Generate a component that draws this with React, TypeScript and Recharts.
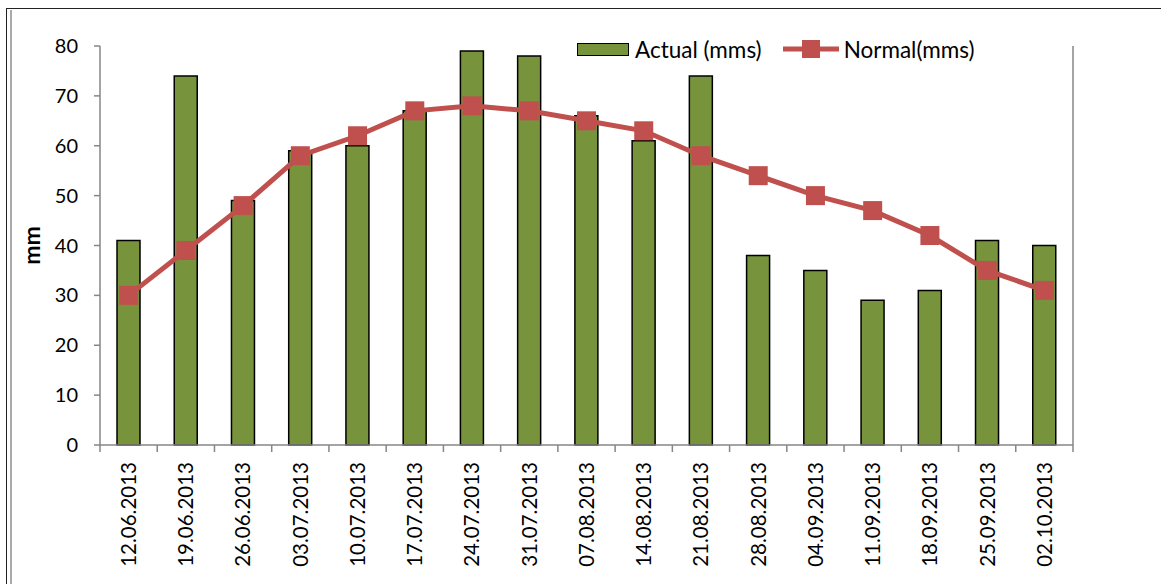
import React from 'react';
import { ComposedChart, Bar, Line, XAxis, YAxis, Label } from 'recharts';

const dates = [
  '12.06.2013', '19.06.2013', '26.06.2013', '03.07.2013', '10.07.2013', '17.07.2013',
  '24.07.2013', '31.07.2013', '07.08.2013', '14.08.2013', '21.08.2013', '28.08.2013',
  '04.09.2013', '11.09.2013', '18.09.2013', '25.09.2013', '02.10.2013',
];
const actual = [41, 74, 49, 59, 60, 67, 79, 78, 66, 61, 74, 38, 35, 29, 31, 41, 40];
const normal = [30, 39, 48, 58, 62, 67, 68, 67, 65, 63, 58, 54, 50, 47, 42, 35, 31];
const yTicks = [0, 10, 20, 30, 40, 50, 60, 70, 80];
const seriesNames = { actual: 'Actual (mms)', normal: 'Normal(mms)' };

const data = dates.map((d, i) => ({ date: d, actual: actual[i], normal: normal[i] }));

const W = 1161;
const H = 584;
const LEFT_W = 100;
const RIGHT_W = 88;
const TOP = 46;
const XH = 139;
const AXIS = '#868686';
const GREEN = '#77933C';
const RED = '#C0504D';
const FONT = 'Lato, "Open Sans", sans-serif';

function XTick(props: any) {
  const { x, y, payload, index } = props;
  const half = payload && payload.offset ? payload.offset : (W - LEFT_W - RIGHT_W) / dates.length / 2;
  const ty = y + 17;
  return (
    <g>
      <line x1={x - half} x2={x - half} y1={y} y2={y + 7} stroke={AXIS} strokeWidth={1.5} />
      {index === dates.length - 1 && (
        <line x1={x + half} x2={x + half} y1={y} y2={y + 7} stroke={AXIS} strokeWidth={1.5} />
      )}
      <text
        x={x}
        y={ty}
        dy="0.36em"
        textAnchor="end"
        transform={`rotate(-90, ${x}, ${ty})`}
        fontFamily={FONT}
        fontSize={20.5}
        fill="#000"
      >
        {payload.value}
      </text>
    </g>
  );
}

function SquareDot(props: any) {
  const { cx, cy, index } = props;
  if (cx == null || cy == null) return <g key={`d${index}`} />;
  return <rect key={`d${index}`} x={cx - 9.5} y={cy - 9.5} width={19} height={19} fill={RED} />;
}

export default function App() {
  return (
    <div style={{ position: 'absolute', left: 0, top: 0, width: W, height: H, background: '#fff', overflow: 'hidden' }}>
      <div style={{ position: 'absolute', left: 6, top: 8, width: W, height: H, borderTop: '1.5px solid #222', borderLeft: '1.5px solid #222' }} />
      <div style={{ position: 'absolute', left: 10, top: 10, width: 2, height: H, background: '#aaa' }} />
      <ComposedChart
        width={W}
        height={H}
        data={data}
        margin={{ top: TOP, right: 0, left: 0, bottom: 0 }}
        barCategoryGap={0}
        style={{ position: 'absolute', left: 0, top: 0 }}
      >
        <XAxis
          dataKey="date"
          height={XH}
          interval={0}
          tickLine={false}
          tickSize={0}
          tickMargin={0}
          axisLine={{ stroke: AXIS, strokeWidth: 1.5 }}
          tick={<XTick />}
        />
        <YAxis
          yAxisId="left"
          width={LEFT_W}
          domain={[0, 80]}
          ticks={yTicks}
          interval={0}
          tickSize={6}
          tickMargin={16}
          axisLine={{ stroke: AXIS, strokeWidth: 1.5 }}
          tickLine={{ stroke: AXIS, strokeWidth: 1.5 }}
          tick={{ fill: '#000', fontFamily: FONT, fontSize: 20 }}
        >
          <Label
            content={(p: any) => {
              const vb = p.viewBox;
              const cx = vb.x + 32;
              const cy = vb.y + vb.height / 2;
              return (
                <text
                  x={cx}
                  y={cy}
                  dy="0.36em"
                  textAnchor="middle"
                  transform={`rotate(-90, ${cx}, ${cy})`}
                  fontFamily={FONT}
                  fontWeight="bold"
                  fontSize={23}
                  fill="#000"
                >
                  mm
                </text>
              );
            }}
          />
        </YAxis>
        <YAxis
          yAxisId="right"
          orientation="right"
          width={RIGHT_W}
          domain={[0, 80]}
          ticks={yTicks}
          interval={0}
          tickSize={6}
          tickMargin={18}
          axisLine={{ stroke: AXIS, strokeWidth: 1.5 }}
          tickLine={{ stroke: AXIS, strokeWidth: 1.5 }}
          tick={{ fill: '#000', fontFamily: FONT, fontSize: 20, textAnchor: 'start' }}
        />
        <Bar
          yAxisId="left"
          dataKey="actual"
          name={seriesNames.actual}
          barSize={23}
          fill={GREEN}
          stroke="#000"
          strokeWidth={1.5}
          isAnimationActive={false}
        />
        <Line
          yAxisId="left"
          dataKey="normal"
          name={seriesNames.normal}
          stroke={RED}
          strokeWidth={5}
          dot={<SquareDot />}
          activeDot={false}
          isAnimationActive={false}
        />
      </ComposedChart>
      <div style={{ position: 'absolute', left: 577, top: 34, height: 30, display: 'flex', alignItems: 'center', fontFamily: FONT, fontSize: 22.5, color: '#000' }}>
        <div style={{ width: 50, height: 11, background: GREEN, border: '1.5px solid #000', marginRight: 6 }} />
        <span>{seriesNames.actual}</span>
        <svg width={56} height={30} style={{ marginLeft: 21, marginRight: 5 }}>
          <line x1={0} x2={56} y1={15} y2={15} stroke={RED} strokeWidth={5} strokeLinecap="round" />
          <rect x={19} y={6} width={18} height={18} fill={RED} />
        </svg>
        <span>{seriesNames.normal}</span>
      </div>
    </div>
  );
}
